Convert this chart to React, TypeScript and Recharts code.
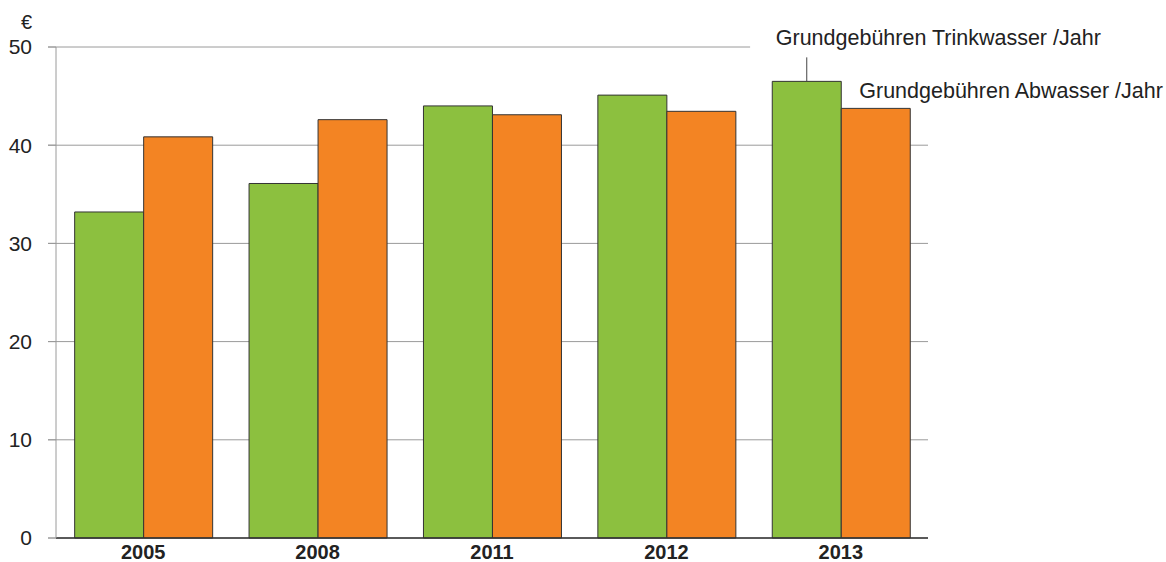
import { BarChart, Bar, XAxis, YAxis, CartesianGrid, LabelList } from 'recharts';

// Jahre und Grundgebühren in €
const JAHRE = ['2005', '2008', '2011', '2012', '2013'];
const TRINKWASSER = [33.2, 36.1, 44.0, 45.1, 46.5];
const ABWASSER = [40.85, 42.6, 43.1, 43.45, 43.75];
const Y_TICKS = [0, 10, 20, 30, 40, 50];

const LABEL_TRINK = 'Grundgebühren Trinkwasser /Jahr';
const LABEL_ABW = 'Grundgebühren Abwasser /Jahr';

const daten = JAHRE.map((jahr, i) => ({ jahr, trink: TRINKWASSER[i], abw: ABWASSER[i] }));

const FONT = '"Liberation Sans", Arial, Helvetica, sans-serif';
const GRUEN = '#8cc03f';
const ORANGE = '#f38423';
const GRAU = '#9a9a9a';

// Gitterlinie oben ist kürzer als die übrigen
const GridLinie = (props: any) => {
  const { x1, y1, x2, y2 } = props;
  const kurz = y1 < 60;
  const ende = kurz ? x1 + (x2 - x1) * 0.796 : x2;
  return <line x1={x1 - 8} y1={y1} x2={ende} y2={y2} stroke={GRAU} strokeWidth={1} />;
};

const TrinkLabel = (props: any) => {
  const { x, y, width, index } = props;
  if (index !== JAHRE.length - 1) return null;
  const mx = x + width / 2;
  return (
    <g>
      <line x1={mx} y1={y} x2={mx} y2={y - 24} stroke="#444" strokeWidth={1} />
      <text x={mx - 31} y={y - 36} fontSize={21.5} fontFamily={FONT} fill="#222">{LABEL_TRINK}</text>
    </g>
  );
};

const AbwLabel = (props: any) => {
  const { x, y, index } = props;
  if (index !== JAHRE.length - 1) return null;
  return (
    <text x={x + 18} y={y - 10} fontSize={21.5} fontFamily={FONT} fill="#222">{LABEL_ABW}</text>
  );
};

const EuroLabel = (props: any) => {
  const vb = props.viewBox || { x: 0, y: 47, width: 56 };
  return (
    <text x={vb.x + vb.width - 24} y={vb.y - 18} textAnchor="end" fontSize={20} fontFamily={FONT} fill="#222">€</text>
  );
};

export default function App() {
  return (
    <div style={{ position: 'absolute', left: 0, top: 0, width: 1166, height: 562, background: '#fff' }}>
      <BarChart
        width={1166}
        height={562}
        data={daten}
        margin={{ top: 47, right: 238, left: 0, bottom: 0 }}
        barCategoryGap="10.7%"
        barGap={0}
      >
        <CartesianGrid vertical={false} horizontal={GridLinie} />
        <XAxis
          dataKey="jahr"
          height={24}
          tickLine={false}
          tickMargin={1}
          axisLine={{ stroke: '#333', strokeWidth: 1.5 }}
          tick={{ fontSize: 20, fontWeight: 'bold', fill: '#222', fontFamily: FONT }}
        />
        <YAxis
          domain={[0, 50]}
          ticks={Y_TICKS}
          width={56}
          tickSize={8}
          tickMargin={16}
          axisLine={{ stroke: GRAU }}
          tickLine={{ stroke: GRAU }}
          tick={{ fontSize: 21, fill: '#222', fontFamily: FONT }}
          label={{ content: EuroLabel }}
        />
        <Bar dataKey="trink" fill={GRUEN} stroke="#333" strokeWidth={1} isAnimationActive={false}>
          <LabelList dataKey="trink" content={TrinkLabel} />
        </Bar>
        <Bar dataKey="abw" fill={ORANGE} stroke="#333" strokeWidth={1} isAnimationActive={false}>
          <LabelList dataKey="abw" content={AbwLabel} />
        </Bar>
      </BarChart>
    </div>
  );
}
